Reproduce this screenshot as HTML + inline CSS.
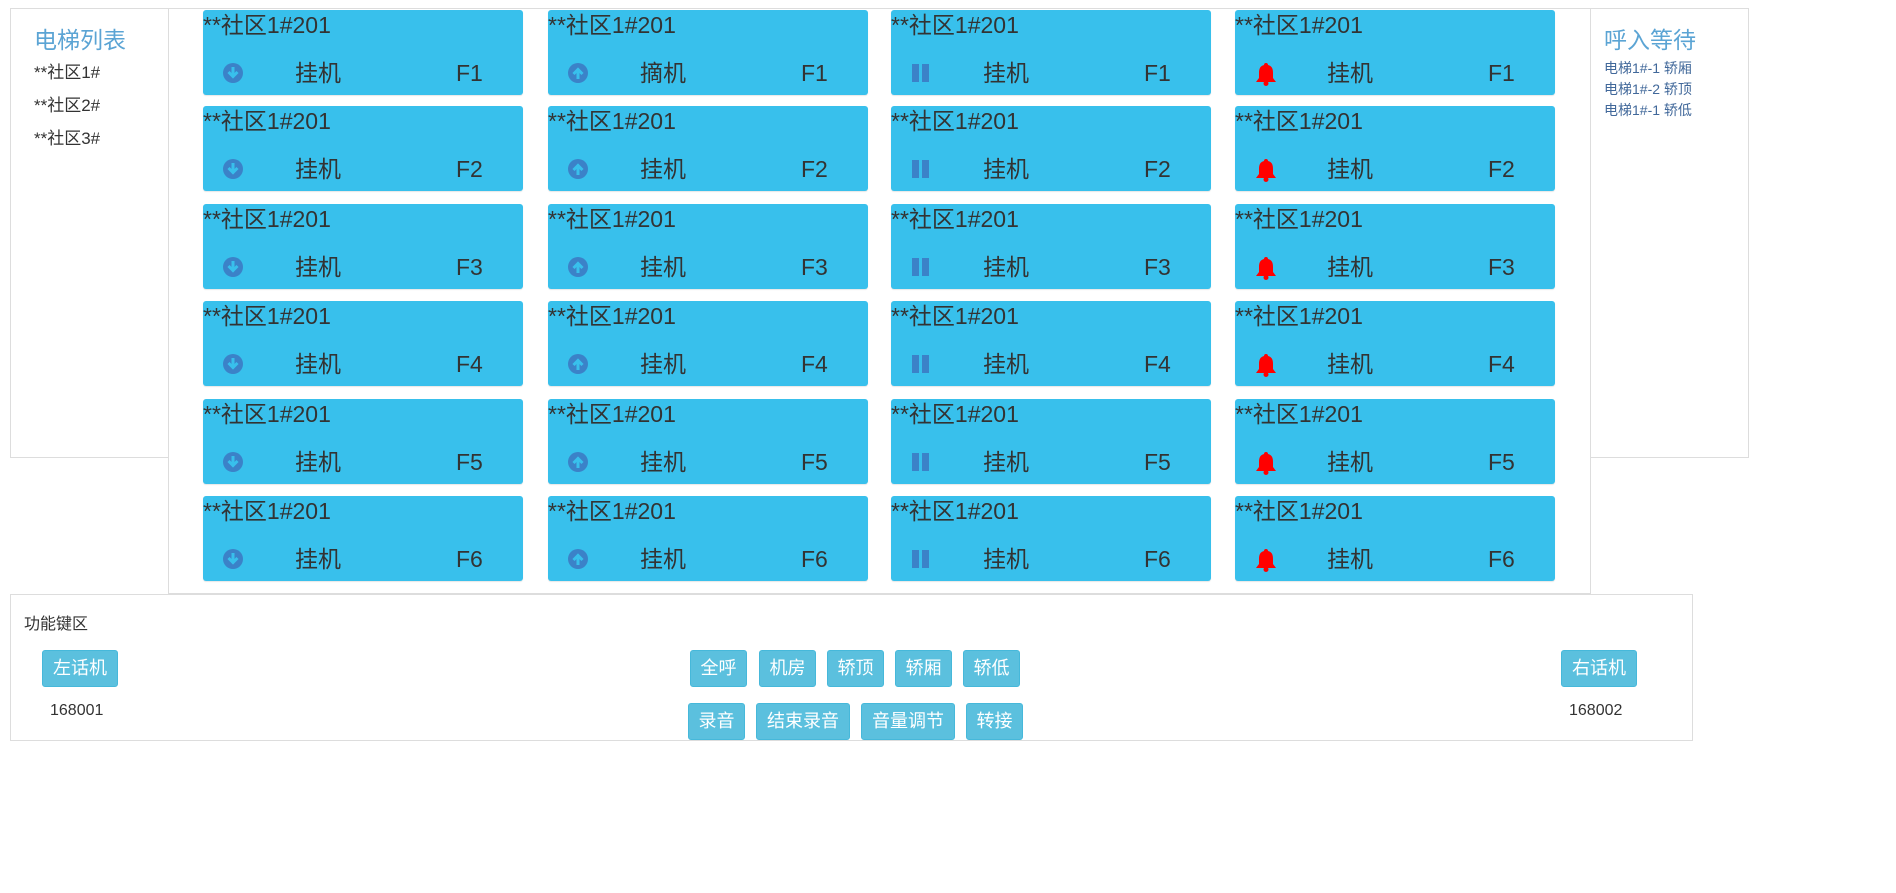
<!DOCTYPE html>
<html><head><meta charset="utf-8"><style>
*{margin:0;padding:0;box-sizing:border-box}
body{width:1896px;height:893px;background:#fff;position:relative;overflow:hidden;font-family:"Liberation Sans","Noto Sans CJK SC",sans-serif;color:#333}
.p{position:absolute;border:1px solid #ddd;background:#fff}
.a{position:absolute;white-space:nowrap}
.card{position:absolute;width:320px;height:85px;background:#38c0ec;border-radius:3px;box-shadow:0 1px 1px rgba(0,0,0,.1)}
.card .t{position:absolute;left:0;top:1px;font-size:23px;color:#333;line-height:28px}
.card .s{position:absolute;left:92px;top:49px;font-size:23px;line-height:28px}
.card .f{position:absolute;left:253px;top:49px;font-size:23px;line-height:28px}
.card svg{position:absolute;left:19px;top:52px}
.btn{position:absolute;background:#5bc0de;border:1px solid #46b8da;border-radius:3px;color:#fff;font-size:18px;text-align:center;line-height:35px;height:37px}
</style></head><body>
<div class="p" style="left:10px;top:8px;width:159px;height:450px"></div>
<div class="p" style="left:1589px;top:8px;width:160px;height:450px"></div>
<div class="p" style="left:168px;top:8px;width:1423px;height:586px"></div>
<div class="p" style="left:10px;top:594px;width:1683px;height:147px"></div>
<div class="a" style="left:34px;top:21px;font-size:23px;color:#5ba4d4">电梯列表</div>
<div class="a" style="left:34px;top:58px;font-size:17px">**社区1#</div>
<div class="a" style="left:34px;top:91px;font-size:17px">**社区2#</div>
<div class="a" style="left:34px;top:124px;font-size:17px">**社区3#</div>
<div class="a" style="left:1604px;top:21px;font-size:23px;color:#5ba4d4">呼入等待</div>
<div class="a" style="left:1604px;top:58px;font-size:14px;color:#41689a">电梯1#-1 轿厢</div>
<div class="a" style="left:1604px;top:79px;font-size:14px;color:#41689a">电梯1#-2 轿顶</div>
<div class="a" style="left:1604px;top:100px;font-size:14px;color:#41689a">电梯1#-1 轿低</div>
<div id="g"></div>
<div class="a" style="left:24px;top:610px;font-size:16px">功能键区</div>
<div class="btn" style="left:42px;top:650px;width:76px">左话机</div>
<div class="a" style="left:50px;top:702px;font-size:16px">168001</div>
<div class="btn" style="left:1561px;top:650px;width:76px">右话机</div>
<div class="a" style="left:1569px;top:702px;font-size:16px">168002</div>
<div class="btn" style="left:690px;top:650px;width:57px">全呼</div>
<div class="btn" style="left:759px;top:650px;width:57px">机房</div>
<div class="btn" style="left:827px;top:650px;width:57px">轿顶</div>
<div class="btn" style="left:895px;top:650px;width:57px">轿厢</div>
<div class="btn" style="left:963px;top:650px;width:57px">轿低</div>
<div class="btn" style="left:688px;top:703px;width:57px">录音</div>
<div class="btn" style="left:756px;top:703px;width:94px">结束录音</div>
<div class="btn" style="left:861px;top:703px;width:94px">音量调节</div>
<div class="btn" style="left:966px;top:703px;width:57px">转接</div>
<script>
var xs=[203,548,891,1235],ys=[10,106,204,301,399,496];
var ic=[
'<svg width="22" height="22" viewBox="0 0 22 22"><circle cx="11" cy="11" r="10" fill="#3b82c8"/><path d="M11 5v9M6.5 10l4.5 4.5 4.5-4.5" stroke="#38c0ec" stroke-width="3" fill="none"/></svg>',
'<svg width="22" height="22" viewBox="0 0 22 22"><circle cx="11" cy="11" r="10" fill="#3b82c8"/><path d="M11 17V8M6.5 12l4.5-4.5 4.5 4.5" stroke="#38c0ec" stroke-width="3" fill="none"/></svg>',
'<svg width="22" height="22" viewBox="0 0 22 22"><rect x="2" y="2" width="7" height="18" fill="#3b82c8"/><rect x="12" y="2" width="7" height="18" fill="#3b82c8"/></svg>',
'<svg width="24" height="24" viewBox="0 0 24 24"><path d="M12 1c1.5 0 2 1 2 2c4 1 5 4 5 8v5l3 4H2l3-4v-5c0-4 1-7 5-8c0-1 .5-2 2-2z" fill="#f00"/><circle cx="12" cy="21.5" r="2.5" fill="#f00"/></svg>'];
var h='';
for(var r=0;r<6;r++)for(var c=0;c<4;c++){
h+='<div class="card" style="left:'+xs[c]+'px;top:'+ys[r]+'px"><div class="t">**社区1#201</div>'+ic[c]+'<div class="s">'+((c==1&&r==0)?'摘机':'挂机')+'</div><div class="f">F'+(r+1)+'</div></div>';}
document.getElementById('g').innerHTML=h;
</script>
</body></html>
